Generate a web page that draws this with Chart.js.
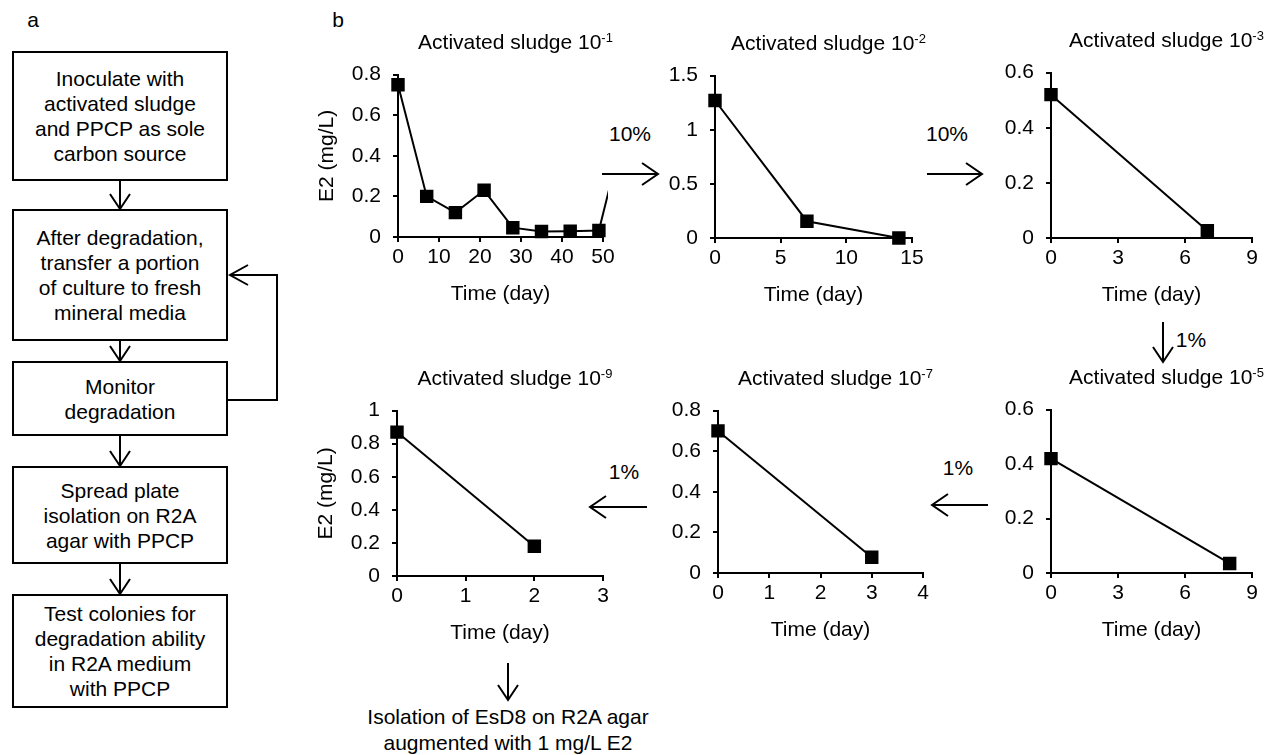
<!DOCTYPE html>
<html>
<head>
<meta charset="utf-8">
<script src="https://cdn.jsdelivr.net/npm/chart.js@4.4.1/dist/chart.umd.min.js"></script>
<style>
  body { margin: 0; width: 1270px; height: 755px; position: relative; overflow: hidden;
         background: #fff; color: #000; font-family: "Liberation Sans", Arial, sans-serif; }
  canvas { position: absolute; }
  .txt { position: absolute; font-size: 21px; white-space: nowrap; transform: translate(-50%, -50%); }
  .box { position: absolute; left: 12px; width: 216px; border: 2px solid #000; box-sizing: border-box;
         display: flex; align-items: center; justify-content: center; text-align: center;
         font-size: 21px; line-height: 25px; background: #fff; }
  .sup { font-size: 13px; vertical-align: 7px; }
  svg { position: absolute; left: 0; top: 0; }
</style>
</head>
<body>

<div class="txt" style="left:33px; top:20px;">a</div>
<div class="txt" style="left:338px; top:20px;">b</div>

<!-- flowchart (a) -->
<div class="box" style="top:51px; height:130px;">Inoculate with<br>activated sludge<br>and PPCP as sole<br>carbon source</div>
<div class="box" style="top:209px; height:132px;">After degradation,<br>transfer a portion<br>of culture to fresh<br>mineral media</div>
<div class="box" style="top:361px; height:75px;">Monitor<br>degradation</div>
<div class="box" style="top:466px; height:98px;">Spread plate<br>isolation on R2A<br>agar with PPCP</div>
<div class="box" style="top:594px; height:114px;">Test colonies for<br>degradation ability<br>in R2A medium<br>with PPCP</div>

<svg width="1270" height="755" fill="none" stroke="#000" stroke-width="2">
  <!-- flowchart arrows -->
  <path d="M120 181 V209 M110 194 L120 209 L130 194"/>
  <path d="M120 341 V361 M110 346 L120 361 L130 346"/>
  <path d="M120 436 V466 M110 451 L120 466 L130 451"/>
  <path d="M120 564 V594 M110 579 L120 594 L130 579"/>
  <path d="M228 400 H277 V275 H230 M248 265 L230 275 L248 285"/>
  <!-- transfer arrows -->
  <path d="M602 174 H658 M642 163 L658 174 L642 185"/>
  <path d="M927 174 H982 M966 163 L982 174 L966 185"/>
  <path d="M1163 322 V362 M1153 347 L1163 362 L1173 347"/>
  <path d="M988 505 H932 M948 494 L932 505 L948 516"/>
  <path d="M647 507 H590 M606 496 L590 507 L606 518"/>
  <path d="M508 663 V700 M498 685 L508 700 L518 685"/>
</svg>

<div class="txt" style="left:630px; top:134px;">10%</div>
<div class="txt" style="left:947px; top:134px;">10%</div>
<div class="txt" style="left:1191px; top:340px;">1%</div>
<div class="txt" style="left:958px; top:468px;">1%</div>
<div class="txt" style="left:624px; top:472px;">1%</div>

<div class="txt" style="left:508px; top:717px;">Isolation of EsD8 on R2A agar</div>
<div class="txt" style="left:508px; top:743px;">augmented with 1 mg/L E2</div>

<script>
// E2 concentration (mg/L) over time (day) for each dilution
const days1 = [0, 7, 14, 21, 28, 35, 42, 49, 56];
const e2_1  = [0.75, 0.20, 0.12, 0.23, 0.046, 0.027, 0.028, 0.032, 0.6];

const days2 = [0, 7, 14];
const e2_2  = [1.27, 0.155, 0.0];

const days3 = [0, 7];
const e2_3  = [0.52, 0.026];

const days5 = [0, 8];
const e2_5  = [0.42, 0.035];

const days7 = [0, 3];
const e2_7  = [0.70, 0.078];

const days9 = [0, 2];
const e2_9  = [0.87, 0.18];

const dilutions = ['-1', '-2', '-3', '-5', '-7', '-9'];

Chart.defaults.font.family = '"Liberation Sans", Arial, sans-serif';
Chart.defaults.font.size = 21;
Chart.defaults.color = '#000';

const Y_AXIS_W = 83, X_AXIS_H = 70, PAD = 15;

// plot-area boxes for each panel
const panels = [
  { days: days1, vals: e2_1, dil: dilutions[0], L: 398, R: 603, T: 65, B: 237, xMax: 50, xStep: 10, yMax: 0.8, yStep: 0.2, yTitle: true, clip: { left: 12, top: 12, right: 5, bottom: 12 } },
  { days: days2, vals: e2_2, dil: dilutions[1], L: 715, R: 912, T: 66, B: 238, xMax: 15, xStep: 5, yMax: 1.5, yStep: 0.5 },
  { days: days3, vals: e2_3, dil: dilutions[2], L: 1051, R: 1252, T: 63, B: 238, xMax: 9, xStep: 3, yMax: 0.6, yStep: 0.2 },
  { days: days5, vals: e2_5, dil: dilutions[3], L: 1051, R: 1252, T: 400, B: 573, xMax: 9, xStep: 3, yMax: 0.6, yStep: 0.2 },
  { days: days7, vals: e2_7, dil: dilutions[4], L: 718, R: 923, T: 401, B: 573, xMax: 4, xStep: 1, yMax: 0.8, yStep: 0.2 },
  { days: days9, vals: e2_9, dil: dilutions[5], L: 397, R: 603, T: 401, B: 576, xMax: 3, xStep: 1, yMax: 1, yStep: 0.2, yTitle: true }
];

function axisStyle() {
  return {
    grid: { drawOnChartArea: false, drawTicks: true, tickLength: 5, color: '#000', lineWidth: 2 },
    border: { color: '#000', width: 2 }
  };
}

function drawPanel(p) {
  const c = document.createElement('canvas');
  c.width = Y_AXIS_W + (p.R - p.L) + PAD;
  c.height = PAD + (p.B - p.T) + X_AXIS_H;
  c.style.left = (p.L - Y_AXIS_W) + 'px';
  c.style.top = (p.T - PAD) + 'px';
  document.body.appendChild(c);

  // panel title
  const t = document.createElement('div');
  t.className = 'txt';
  t.style.left = ((p.L + p.R) / 2 + 15) + 'px';
  t.style.top = (p.T - 23) + 'px';
  t.innerHTML = 'Activated sludge 10<span class="sup">' + p.dil + '</span>';
  document.body.appendChild(t);

  new Chart(c, {
    type: 'line',
    data: {
      datasets: [{
        data: p.days.map((d, i) => ({ x: d, y: p.vals[i] })),
        borderColor: '#000',
        borderWidth: 2,
        pointStyle: 'rect',
        pointRadius: 9.5,
        pointBorderWidth: 0,
        pointBackgroundColor: '#000',
        tension: 0,
        clip: p.clip || 12
      }]
    },
    options: {
      responsive: false,
      animation: false,
      devicePixelRatio: 1,
      layout: { padding: { top: PAD, right: PAD, left: 0, bottom: 0 } },
      plugins: { legend: { display: false }, tooltip: { enabled: false } },
      scales: {
        x: Object.assign(axisStyle(), {
          type: 'linear', min: 0, max: p.xMax,
          ticks: { stepSize: p.xStep, padding: 3, maxRotation: 0, autoSkip: false },
          title: { display: true, text: 'Time (day)', padding: 0 },
          afterFit: s => { s.height = X_AXIS_H; }
        }),
        y: Object.assign(axisStyle(), {
          min: 0, max: p.yMax,
          ticks: { stepSize: p.yStep, padding: 12, callback: v => String(Number(v.toFixed(1))) },
          title: { display: !!p.yTitle, text: 'E2 (mg/L)', padding: 0 },
          afterFit: s => { s.width = Y_AXIS_W; }
        })
      }
    }
  });
}

panels.forEach(drawPanel);
</script>
</body>
</html>
